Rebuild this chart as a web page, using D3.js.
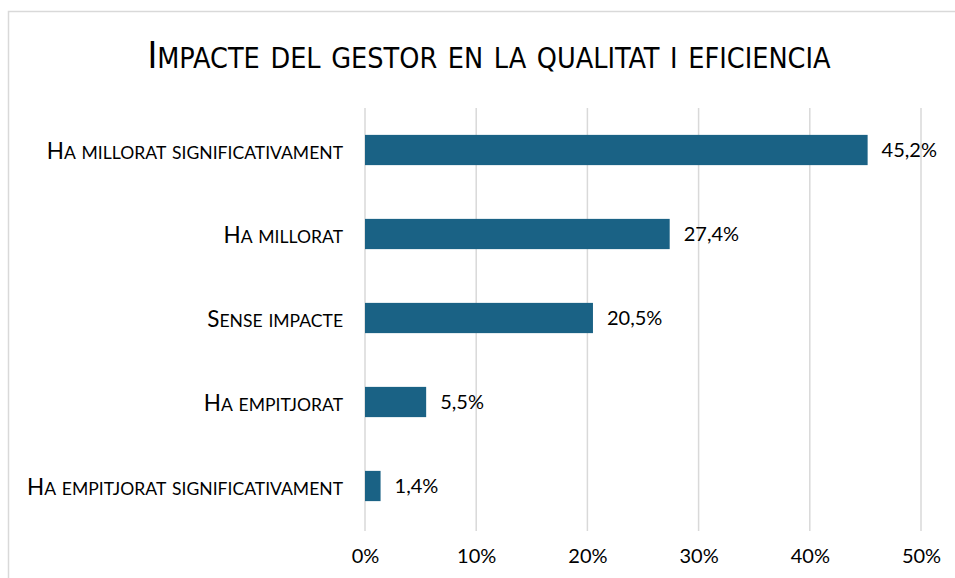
<!DOCTYPE html>
<html>
<head>
<meta charset="utf-8">
<script src="https://cdn.jsdelivr.net/npm/d3@7"></script>
<style>
  body { margin: 0; background: #fff; }
  text { font-family: Lato, "Open Sans", sans-serif; fill: #000; }
</style>
</head>
<body>
<div id="chart"></div>
<script>
const categories = ['Ha millorat significativament', 'Ha millorat', 'Sense impacte', 'Ha empitjorat', 'Ha empitjorat significativament'];
const values = [45.2, 27.4, 20.5, 5.5, 1.4];
const ticks = [0, 10, 20, 30, 40, 50];
const title = 'Impacte del gestor en la qualitat i eficiencia';

const width = 955, height = 578;
const svg = d3.select('#chart')
              .append('svg')
              .attr('width', width)
              .attr('height', height);

// fake small caps: capitals at full size, lowercase uppercased at a smaller size
const smallCaps = (sel, str, size, ratio) => {
    sel.text(null).style('font-size', size + 'px');
    str.split('').forEach(ch => {
        const lower = ch !== ch.toUpperCase();
        sel.append('tspan')
           .style('font-size', (lower ? size * ratio : size) + 'px')
           .text(ch.toUpperCase());
    });
};

// chart frame
svg.append('rect')
   .attr('x', 8.5).attr('y', 11.5)
   .attr('width', 1000).attr('height', 700)
   .attr('fill', 'none')
   .attr('stroke', '#d9d9d9')
   .attr('stroke-width', 1.5);

const plot = {left: 365, right: 921, top: 108, bottom: 528};

const x = d3.scaleLinear().domain([0, 50]).range([plot.left, plot.right]);
const y = d3.scaleBand().domain(categories).range([plot.top, plot.bottom]).paddingInner(0.64).paddingOuter(0.32);

// gridlines
svg.append('g').selectAll('line')
   .data(ticks)
   .enter().append('line')
   .attr('x1', d => x(d)).attr('x2', d => x(d))
   .attr('y1', plot.top).attr('y2', plot.bottom + 3)
   .attr('stroke', '#d9d9d9')
   .attr('stroke-width', 1.5);

// x axis labels
const xAxis = d3.axisBottom(x).tickValues(ticks).tickSize(0).tickPadding(0).tickFormat(d => d + '%');
svg.append('g')
   .attr('transform', `translate(0,${plot.bottom})`)
   .call(xAxis)
   .call(g => g.select('.domain').remove())
   .selectAll('text')
   .attr('y', 28)
   .attr('dy', '0.35em')
   .style('font-size', '20px')
   .style('font-family', 'Lato, sans-serif')
   .style('fill', '#000');

// bars
svg.append('g').selectAll('rect')
   .data(values)
   .enter().append('rect')
   .attr('x', x(0))
   .attr('y', (d, i) => y(categories[i]))
   .attr('width', d => x(d) - x(0))
   .attr('height', y.bandwidth())
   .attr('fill', '#1a6285');

// value labels
svg.append('g').selectAll('text')
   .data(values)
   .enter().append('text')
   .attr('x', d => x(d) + 14)
   .attr('y', (d, i) => y(categories[i]) + y.bandwidth() / 2)
   .attr('dy', '0.35em')
   .style('font-size', '20px')
   .text(d => d.toFixed(1).replace('.', ',') + '%');

// category labels
const yAxis = d3.axisLeft(y).tickSize(0).tickPadding(22);
svg.append('g')
   .attr('transform', `translate(${plot.left},0)`)
   .call(yAxis)
   .call(g => g.select('.domain').remove())
   .selectAll('text')
   .attr('dy', '0.38em')
   .style('font-family', 'Lato, sans-serif')
   .style('fill', '#000')
   .each(function(d) { smallCaps(d3.select(this), d, 22.5, 0.78); });

// title
svg.append('text')
   .attr('x', 489)
   .attr('y', 68)
   .attr('text-anchor', 'middle')
   .style('font-family', '"Liberation Sans Narrow", "DejaVu Sans Condensed", sans-serif')
   .call(t => smallCaps(t, title, 37, 0.77));
</script>
</body>
</html>
